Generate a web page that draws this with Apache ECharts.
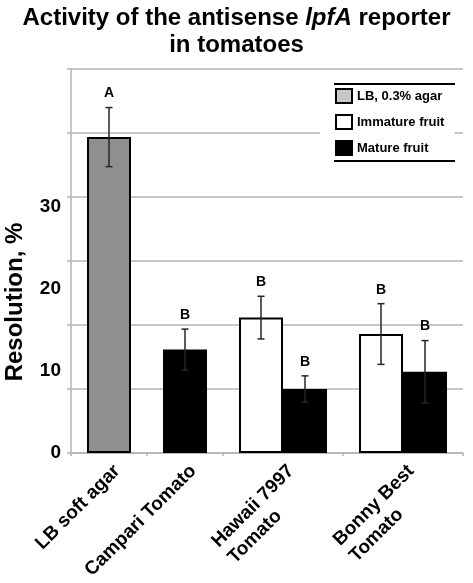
<!DOCTYPE html>
<html><head><meta charset="utf-8">
<script src="https://cdn.jsdelivr.net/npm/echarts@6/dist/echarts.min.js"></script>
<style>html,body{margin:0;padding:0;background:#fff}#c{width:473px;height:583px}</style>
</head><body><div id="c"></div>
<script>
// ---- data ----
const categories = ['LB soft agar', 'Campari Tomato', 'Hawaii 7997\nTomato', 'Bonny Best\nTomato'];
const lbAgar      = [38.5, null, null, null];
const lbAgarErr   = [3.6, null, null, null];
const lbLetters   = ['A', null, null, null];
const immature    = [null, null, 16.5, 14.5];
const immatureErr = [null, null, 2.6, 3.7];
const immatureLetters = [null, null, 'B', 'B'];
const mature      = [null, 12.6, 7.8, 9.9];
const matureErr   = [null, 2.5, 1.6, 3.8];
const matureLetters = [null, 'B', 'B', 'B'];
const yTickLabels = [0, 10, 20, 30];

// ---- styling / layout ----
const FONT = "'Liberation Sans', Arial, Helvetica, sans-serif";
const BAR_W = 44;
const Y_MAX = 46.8;
const GRID_COLOR = '#b4b4b4';
const panels = [
  { left: 71, right: 250, cats: [0, 1] },
  { left: 223, right: 10, cats: [2, 3] }
];
const seriesDefs = [
  { name: 'LB, 0.3% agar', values: lbAgar, errs: lbAgarErr, letters: lbLetters, color: '#8f8f8f', legendColor: '#c8c8c8' },
  { name: 'Immature fruit', values: immature, errs: immatureErr, letters: immatureLetters, color: '#ffffff', legendColor: '#ffffff' },
  { name: 'Mature fruit', values: mature, errs: matureErr, letters: matureLetters, color: '#000000', legendColor: '#000000' }
];
const has = v => v !== null && v !== undefined;

const grid = [], xAxis = [], yAxis = [], series = [];
panels.forEach((p, pi) => {
  grid.push({ left: p.left, right: p.right, top: 69, bottom: 130 });
  xAxis.push({
    type: 'category', gridIndex: pi, data: p.cats.map(c => categories[c]),
    axisLine: { lineStyle: { color: GRID_COLOR, width: 1.5 } },
    axisTick: { show: true, length: 3, lineStyle: { color: GRID_COLOR, width: 1.5 } },
    axisLabel: {
      interval: 0, rotate: 45, margin: 7, align: 'right', verticalAlign: 'top',
      formatter: v => v.split('\n').map(s => '{l|' + s + '}').join('\n'),
      rich: { l: { align: 'left', fontSize: 19, fontWeight: 'bold', fontFamily: FONT, color: '#000', lineHeight: 23 } }
    }
  });
  // value axis (labels)
  yAxis.push({
    type: 'value', gridIndex: pi, min: 0, max: Y_MAX, interval: 10, position: 'left',
    show: pi === 0,
    name: pi === 0 ? 'Resolution, %' : '', nameLocation: 'middle', nameGap: 44,
    nameTextStyle: { fontSize: 24, fontWeight: 'bold', fontFamily: FONT, color: '#000', padding: [0, 82, 0, 0] },
    axisLine: { show: false }, axisTick: { show: false }, splitLine: { show: false },
    axisLabel: {
      margin: 10, fontSize: 19, fontWeight: 'bold', fontFamily: FONT, color: '#000',
      formatter: v => yTickLabels.includes(v) ? String(v) : ''
    }
  });
  // gridline axis
  yAxis.push({
    type: 'value', gridIndex: pi, min: 0, max: 6, interval: 1, position: 'left',
    axisLine: { show: pi === 0, lineStyle: { color: GRID_COLOR, width: 1.5 } },
    axisTick: { show: pi === 0, length: 4, lineStyle: { color: GRID_COLOR, width: 1.5 } },
    axisLabel: { show: false },
    splitLine: { show: true, lineStyle: { color: GRID_COLOR, width: 1.5 } }
  });

  const active = seriesDefs.filter(s => p.cats.some(c => has(s.values[c])));
  const maxPerCat = Math.max(...p.cats.map(c => seriesDefs.filter(s => has(s.values[c])).length));
  const stacked = maxPerCat <= 1;
  active.forEach(s => {
    series.push({
      type: 'bar', name: s.name, xAxisIndex: pi, yAxisIndex: pi * 2,
      data: p.cats.map(c => has(s.values[c]) ? s.values[c] : '-'),
      stack: stacked ? 'p' + pi : undefined,
      barWidth: BAR_W, barGap: '0%',
      itemStyle: { color: s.color, borderColor: '#000', borderWidth: 2 },
      z: 2
    });
  });

  const items = [];
  p.cats.forEach((c, ci) => {
    const here = stacked ? seriesDefs.filter(s => has(s.values[c])) : active;
    const n = here.length;
    here.forEach((s, j) => {
      if (!has(s.values[c])) return;
      items.push({ ci, mean: s.values[c], err: s.errs[c], letter: s.letters[c], off: (j - (n - 1) / 2) * BAR_W });
    });
  });
  series.push({
    type: 'custom', xAxisIndex: pi, yAxisIndex: pi * 2, z: 10,
    encode: { x: 0, y: [1, 2] },
    data: items.map(it => [it.ci, it.mean - it.err, it.mean + it.err]),
    renderItem: (params, api) => {
      const it = items[params.dataIndex];
      const cx = api.coord([api.value(0), 0])[0] + it.off;
      const yHi = api.coord([api.value(0), api.value(2)])[1];
      const yLo = api.coord([api.value(0), api.value(1)])[1];
      const cap = 3.5;
      const st = { stroke: '#262626', lineWidth: 1.5 };
      const children = [
        { type: 'line', shape: { x1: cx, y1: yHi, x2: cx, y2: yLo }, style: st },
        { type: 'line', shape: { x1: cx - cap, y1: yHi, x2: cx + cap, y2: yHi }, style: st },
        { type: 'line', shape: { x1: cx - cap, y1: yLo, x2: cx + cap, y2: yLo }, style: st }
      ];
      if (it.letter) children.push({
        type: 'text',
        style: { text: it.letter, x: cx, y: yHi - 7, align: 'center', verticalAlign: 'bottom', fill: '#000', font: 'bold 14px ' + FONT }
      });
      return { type: 'group', children };
    }
  });
});

const chart = echarts.init(document.getElementById('c'), null, { renderer: 'canvas' });
chart.setOption({
  animation: false,
  backgroundColor: '#fff',
  title: {
    text: 'Activity of the antisense {i|lpfA} reporter\nin tomatoes',
    left: 'center', top: 5, padding: 0,
    textStyle: {
      fontSize: 24, fontWeight: 'bold', fontFamily: FONT, color: '#000', lineHeight: 27,
      rich: { i: { fontStyle: 'italic', fontSize: 24, fontWeight: 'bold', fontFamily: FONT, color: '#000', lineHeight: 27 } }
    }
  },
  legend: {
    orient: 'vertical', left: 320, top: 78, padding: [10, 10, 26, 15],
    backgroundColor: '#fff', itemWidth: 16, itemHeight: 14, itemGap: 10, icon: 'rect', z: 4,
    itemStyle: { borderColor: '#000', borderWidth: 2 },
    textStyle: { fontSize: 13, lineHeight: 16, fontWeight: 'bold', color: '#000', fontFamily: FONT },
    data: seriesDefs.map(s => ({ name: s.name, itemStyle: { color: s.legendColor, borderColor: '#000', borderWidth: 2 } }))
  },
  graphic: {
    elements: [
      { type: 'line', z: 100, shape: { x1: 334, y1: 84, x2: 455, y2: 84 }, style: { stroke: '#000', lineWidth: 2 } },
      { type: 'line', z: 100, shape: { x1: 334, y1: 161, x2: 455, y2: 161 }, style: { stroke: '#000', lineWidth: 2 } }
    ]
  },
  grid, xAxis, yAxis, series
});
</script></body></html>
